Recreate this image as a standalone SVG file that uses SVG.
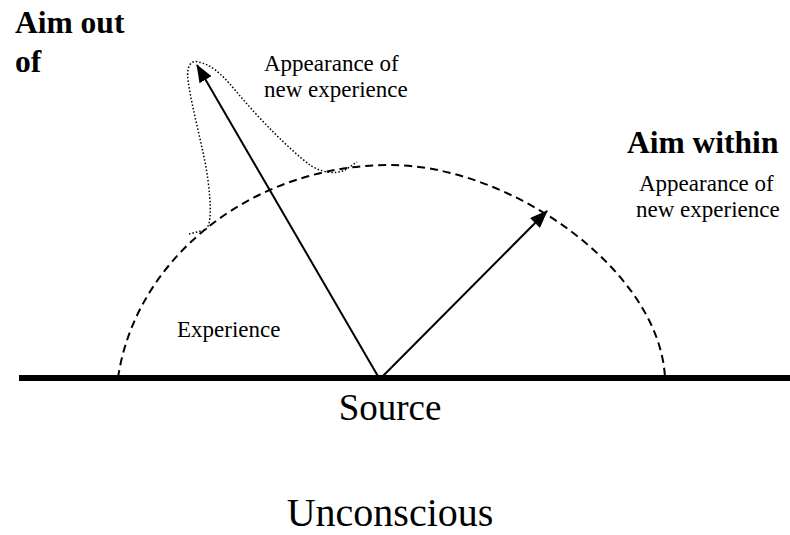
<svg xmlns="http://www.w3.org/2000/svg" width="790" height="535" viewBox="0 0 790 535" font-family="'Liberation Serif', 'Times New Roman', 'DejaVu Serif', serif">
<style>
text{font-family:'Liberation Serif','Times New Roman','DejaVu Serif',serif;fill:#000}
.b{font-weight:bold;font-size:31.5px}
.s{font-size:23px}
.dash{fill:none;stroke:#000;stroke-width:2;stroke-dasharray:8,5}
.dot{fill:none;stroke:#000;stroke-width:1.5;stroke-dasharray:1.5,2}
.arr{stroke:#000;stroke-width:2;fill:none;marker-end:url(#ah)}
</style>
<defs>
<marker id="ah" markerWidth="18" markerHeight="14" refX="17" refY="7" orient="auto" markerUnits="userSpaceOnUse">
<path d="M0,0 L18,7 L0,14 Z" fill="#000"/>
</marker>
</defs>
<rect width="790" height="535" fill="#fff"/>
<g id="ground">
<line x1="19" y1="378" x2="790" y2="378" stroke="#000" stroke-width="6"/>
</g>
<g id="experience-dome">
<path class="dash" d="M118,378 C135,260 250,165 390,165 C510,165 660,270 665,378"/>
</g>
<g id="aim-out-bubble">
<path class="dot" d="M189,234 L205,230 C212,225 211,205 208,180 C204,150 192,110 188,80 C186,65 192,60 198,62 C210,64 220,72 235,90 C260,120 290,150 310,165 C320,172 335,175 345,170 L357,162"/>
</g>
<g id="connectors">
<line class="arr" x1="379" y1="378" x2="197" y2="65"/>
<line class="arr" x1="381" y1="378" x2="547" y2="211"/>
</g>
<g id="labels">
<text class="b" x="15" y="33">Aim out</text>
<text class="b" x="15" y="72">of</text>
<text class="s" x="264" y="71">Appearance of</text>
<text class="s" x="264" y="97">new experience</text>
<text class="b" x="627" y="153">Aim within</text>
<text class="s" x="639" y="191">Appearance of</text>
<text class="s" x="636" y="217">new experience</text>
<text class="s" x="177" y="337">Experience</text>
<text x="390" y="420" font-size="37" text-anchor="middle">Source</text>
<text x="390" y="526" font-size="40" text-anchor="middle">Unconscious</text>
</g>
</svg>
